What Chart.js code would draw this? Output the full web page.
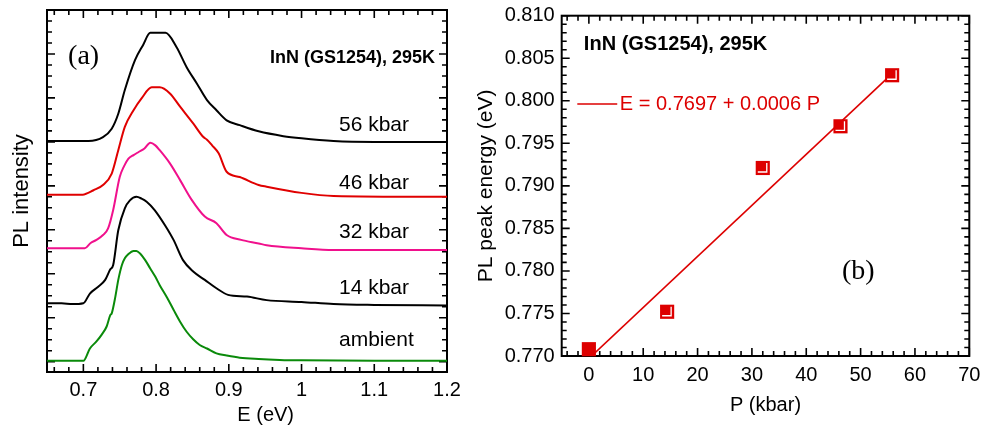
<!DOCTYPE html>
<html><head><meta charset="utf-8">
<script src="https://cdn.jsdelivr.net/npm/chart.js@4.4.1/dist/chart.umd.min.js"></script>
<style>
html,body{margin:0;padding:0;background:#fff;width:1008px;height:433px;overflow:hidden;}
#ca{position:absolute;left:0;top:0;}
#cb{position:absolute;left:460px;top:0;}
</style></head><body>
<canvas id="ca" width="490" height="433"></canvas>
<canvas id="cb" width="548" height="433"></canvas>
<script>
// ---------- Panel (a): PL spectra (energy in eV, offset intensity in arb. units) ----------
const ambientE = [0.650, 0.700, 0.709, 0.718, 0.725, 0.732, 0.737, 0.739, 0.744, 0.748, 0.753, 0.757, 0.762, 0.769, 0.773, 0.778, 0.785, 0.792, 0.799, 0.805, 0.815, 0.824, 0.833, 0.842, 0.851, 0.860, 0.870, 0.883, 0.897, 0.915, 0.941, 0.970, 1.000, 1.100, 1.200];
const ambientI = [0.02, 0.02, 0.30, 0.46, 0.61, 0.80, 1.06, 1.10, 1.48, 1.86, 2.20, 2.35, 2.45, 2.52, 2.52, 2.46, 2.31, 2.12, 1.93, 1.74, 1.46, 1.18, 0.91, 0.68, 0.51, 0.38, 0.30, 0.19, 0.14, 0.09, 0.06, 0.04, 0.03, 0.02, 0.02];

const k14E = [0.650, 0.670, 0.685, 0.700, 0.709, 0.720, 0.730, 0.737, 0.741, 0.748, 0.757, 0.764, 0.773, 0.780, 0.787, 0.798, 0.812, 0.824, 0.837, 0.851, 0.867, 0.883, 0.899, 0.925, 0.952, 1.000, 1.044, 1.100, 1.200];
const k14I = [1.33, 1.33, 1.31, 1.33, 1.55, 1.70, 1.86, 2.10, 2.20, 2.99, 3.49, 3.67, 3.75, 3.71, 3.64, 3.45, 3.11, 2.77, 2.31, 2.05, 1.86, 1.67, 1.52, 1.48, 1.40, 1.36, 1.31, 1.29, 1.28];

const k32E = [0.650, 0.702, 0.710, 0.718, 0.727, 0.734, 0.741, 0.750, 0.756, 0.762, 0.769, 0.776, 0.784, 0.792, 0.799, 0.805, 0.819, 0.833, 0.849, 0.867, 0.883, 0.897, 0.917, 0.941, 0.952, 1.000, 1.044, 1.200];
const k32I = [2.58, 2.58, 2.70, 2.77, 2.88, 3.03, 3.45, 4.20, 4.45, 4.62, 4.70, 4.77, 4.85, 4.98, 4.92, 4.81, 4.51, 4.13, 3.68, 3.30, 3.15, 2.88, 2.77, 2.69, 2.65, 2.58, 2.54, 2.54];

const k46E = [0.650, 0.699, 0.714, 0.727, 0.739, 0.748, 0.757, 0.769, 0.780, 0.794, 0.805, 0.819, 0.833, 0.851, 0.865, 0.870, 0.877, 0.886, 0.897, 0.915, 0.941, 0.952, 1.000, 1.044, 1.200];
const k46I = [3.80, 3.80, 3.90, 4.02, 4.28, 4.81, 5.34, 5.72, 5.99, 6.24, 6.24, 6.10, 5.80, 5.42, 5.11, 5.05, 4.92, 4.74, 4.32, 4.20, 4.02, 3.98, 3.84, 3.77, 3.75];

const k56E = [0.650, 0.707, 0.727, 0.739, 0.748, 0.757, 0.771, 0.782, 0.792, 0.813, 0.828, 0.842, 0.856, 0.870, 0.883, 0.897, 0.915, 0.941, 0.975, 1.000, 1.044, 1.100, 1.200];
const k56I = [5.02, 5.02, 5.11, 5.30, 5.64, 6.18, 6.86, 7.20, 7.48, 7.48, 7.16, 6.70, 6.33, 5.95, 5.72, 5.49, 5.38, 5.24, 5.13, 5.08, 5.02, 5.00, 5.00];

const spectrumLabels = ['56 kbar', '46 kbar', '32 kbar', '14 kbar', 'ambient'];
const energyTicksA = [0.7, 0.8, 0.9, 1.0, 1.1, 1.2];
const energyTickLabelsA = ['0.7', '0.8', '0.9', '1', '1.1', '1.2'];

// ---------- Panel (b): PL peak energy vs pressure ----------
const pressure = [0, 14.4, 32.0, 46.3, 55.8];
const peakEnergy = [0.7708, 0.7752, 0.7921, 0.7970, 0.8030];
const fitP = [0, 56];
const fitE = [0.7697, 0.8033];
const pressureTicks = [0, 10, 20, 30, 40, 50, 60, 70];
const peakTicks = [0.770, 0.775, 0.780, 0.785, 0.790, 0.795, 0.800, 0.805, 0.810];
const peakTickLabels = ['0.770', '0.775', '0.780', '0.785', '0.790', '0.795', '0.800', '0.805', '0.810'];

const FONT = "'Liberation Sans', Arial, sans-serif";
const SERIF = "'Liberation Serif', 'Times New Roman', serif";
const zip = (xs, ys) => xs.map((x, i) => ({x, y: ys[i]}));

// Inward ticks on all four sides + frame
const frameTicks = {
  id: 'frameTicks',
  beforeDatasetsDraw(chart, args, o) {
    const {ctx, chartArea: a, scales: {x, y}} = chart;
    ctx.save();
    ctx.strokeStyle = '#000';
    ctx.lineWidth = 1.6;
    ctx.beginPath();
    const run = (scale, start, step, major, fn) => {
      for (let i = 0; i < 1000; i++) {
        const v = start + i * step;
        if (v > scale.max + step * 1e-3) break;
        if (v < scale.min - step * 1e-3) continue;
        const k = Math.round(v / major);
        const isMajor = Math.abs(v - k * major) < step * 1e-3;
        fn(scale.getPixelForValue(v), isMajor ? o.majorLen : o.minorLen);
      }
    };
    run(x, o.xStart, o.xStep, o.xMajor, (p, len) => {
      ctx.moveTo(p, a.bottom); ctx.lineTo(p, a.bottom - len);
      ctx.moveTo(p, a.top); ctx.lineTo(p, a.top + len);
    });
    run(y, o.yStart, o.yStep, o.yMajor, (p, len) => {
      ctx.moveTo(a.left, p); ctx.lineTo(a.left + len, p);
      ctx.moveTo(a.right, p); ctx.lineTo(a.right - len, p);
    });
    ctx.stroke();
    ctx.lineWidth = 2;
    ctx.strokeRect(a.left, a.top, a.right - a.left, a.bottom - a.top);
    ctx.restore();
  }
};

// Free text (positions given in data coordinates)
const texts = {
  id: 'texts',
  afterDraw(chart, args, o) {
    const {ctx, scales: {x, y}, chartArea: a} = chart;
    ctx.save();
    for (const t of o.items) {
      ctx.font = t.font;
      ctx.fillStyle = t.color || '#000';
      ctx.textAlign = t.align || 'left';
      ctx.textBaseline = 'middle';
      const px = x.getPixelForValue(t.x);
      const py = t.yBelow !== undefined ? a.bottom + t.yBelow : y.getPixelForValue(t.y);
      if (t.line) {
        ctx.strokeStyle = t.color; ctx.lineWidth = 1.6;
        ctx.beginPath();
        ctx.moveTo(x.getPixelForValue(t.line[0]), py);
        ctx.lineTo(x.getPixelForValue(t.line[1]), py);
        ctx.stroke();
      }
      ctx.fillText(t.text, px, py);
    }
    ctx.restore();
  }
};

// white inner error-bar marks on the square markers
const errMarks = {
  id: 'errMarks',
  afterDatasetsDraw(chart) {
    const meta = chart.getDatasetMeta(1);
    const ctx = chart.ctx;
    ctx.save();
    ctx.strokeStyle = '#fff';
    ctx.lineWidth = 1.3;
    meta.data.forEach((pt, i) => {
      if (i === 0) return;
      ctx.beginPath();
      ctx.moveTo(pt.x + 4, pt.y - 5); ctx.lineTo(pt.x + 4, pt.y + 4);
      ctx.lineTo(pt.x - 5, pt.y + 4);
      ctx.stroke();
    });
    ctx.restore();
  }
};

const lineDS = (label, xs, ys, color) => ({
  label, data: zip(xs, ys), showLine: true, borderColor: color, borderWidth: 2,
  pointRadius: 0, cubicInterpolationMode: 'monotone', fill: false
});

// ---------------- Chart A ----------------
new Chart(document.getElementById('ca'), {
  type: 'scatter',
  data: {
    datasets: [
      lineDS('ambient', ambientE, ambientI, '#0a8a0a'),
      lineDS('14 kbar', k14E, k14I, '#000000'),
      lineDS('32 kbar', k32E, k32I, '#f0108c'),
      lineDS('46 kbar', k46E, k46I, '#e00000'),
      lineDS('56 kbar', k56E, k56I, '#000000')
    ]
  },
  options: {
    responsive: false, animation: false, devicePixelRatio: 1,
    layout: {padding: {left: 0, right: 43, top: 10, bottom: 0}},
    scales: {
      x: {
        type: 'linear', min: 0.65, max: 1.2,
        grid: {display: false, drawTicks: false}, border: {display: false},
        afterBuildTicks: s => { s.ticks = energyTicksA.map(v => ({value: v})); },
        afterFit: s => { s.height = 61; s.paddingLeft = 0; s.paddingRight = 0; },
        ticks: {autoSkip: false, maxRotation: 0, minRotation: 0, padding: 6, color: '#000',
          font: {family: FONT, size: 20}, callback: (v, i) => energyTickLabelsA[i]}
      },
      y: {
        type: 'linear', min: -0.235, max: 8,
        grid: {display: false, drawTicks: false}, border: {display: false},
        ticks: {display: false},
        afterFit: s => { s.width = 47; s.paddingTop = 0; s.paddingBottom = 0; },
        title: {display: true, text: 'PL intensity', color: '#000',
          font: {family: FONT, size: 22}, padding: {top: 8.5, bottom: 0}}
      }
    },
    plugins: {
      legend: {display: false}, tooltip: {enabled: false},
      frameTicks: {xStart: 0.60, xStep: 0.02, xMajor: 0.1, yStart: 0, yStep: 0.25, yMajor: 1, majorLen: 8, minorLen: 5},
      texts: {items: [
        {text: '(a)', x: 0.679, y: 6.93, font: `28px ${SERIF}`},
        {text: 'InN (GS1254), 295K', x: 1.1835, y: 6.90, font: `bold 18px ${FONT}`, align: 'right'},
        {text: spectrumLabels[0], x: 1.0515, y: 5.38, font: `21px ${FONT}`},
        {text: spectrumLabels[1], x: 1.0515, y: 4.07, font: `21px ${FONT}`},
        {text: spectrumLabels[2], x: 1.0515, y: 2.94, font: `21px ${FONT}`},
        {text: spectrumLabels[3], x: 1.0515, y: 1.67, font: `21px ${FONT}`},
        {text: spectrumLabels[4], x: 1.0515, y: 0.48, font: `21px ${FONT}`},
        {text: 'E (eV)', x: 0.9507, yBelow: 43, font: `20px ${FONT}`, align: 'center'}
      ]}
    }
  },
  plugins: [frameTicks, texts]
});

// ---------------- Chart B ----------------
new Chart(document.getElementById('cb'), {
  type: 'scatter',
  data: {
    datasets: [
      {label: 'fit', data: zip(fitP, fitE), showLine: true, borderColor: '#dd0000', borderWidth: 1.6, pointRadius: 0, tension: 0},
      {label: 'peak', data: zip(pressure, peakEnergy), showLine: false, pointStyle: 'rect',
        pointRadius: 10, pointBackgroundColor: '#dd0000', pointBorderColor: '#dd0000', pointBorderWidth: 0, clip: false}
    ]
  },
  options: {
    responsive: false, animation: false, devicePixelRatio: 1,
    layout: {padding: {left: 0, right: 38.7, top: 15.7, bottom: 0}},
    scales: {
      x: {
        type: 'linear', min: -5, max: 70,
        grid: {display: false, drawTicks: false}, border: {display: false},
        afterBuildTicks: s => { s.ticks = pressureTicks.map(v => ({value: v})); },
        afterFit: s => { s.height = 77; s.paddingLeft = 0; s.paddingRight = 0; },
        ticks: {autoSkip: false, maxRotation: 0, minRotation: 0, padding: 7, color: '#000',
          font: {family: FONT, size: 20}, callback: (v, i) => String(pressureTicks[i])},
        title: {display: true, text: 'P (kbar)', color: '#000', font: {family: FONT, size: 20}, padding: {top: 4, bottom: 16}}
      },
      y: {
        type: 'linear', min: 0.770, max: 0.810,
        grid: {display: false, drawTicks: false}, border: {display: false},
        afterBuildTicks: s => { s.ticks = peakTicks.map(v => ({value: v})); },
        afterFit: s => { s.width = 101.7; s.paddingTop = 0; s.paddingBottom = 0; },
        ticks: {autoSkip: false, padding: 7, color: '#000', font: {family: FONT, size: 20},
          callback: (v, i) => peakTickLabels[i]},
        title: {display: true, text: 'PL peak energy (eV)', color: '#000',
          font: {family: FONT, size: 21}, padding: {top: 14, bottom: 0}}
      }
    },
    plugins: {
      legend: {display: false}, tooltip: {enabled: false},
      frameTicks: {xStart: -4, xStep: 2, xMajor: 10, yStart: 0.770, yStep: 0.001, yMajor: 0.005, majorLen: 8, minorLen: 5},
      texts: {items: [
        {text: 'InN (GS1254), 295K', x: -0.92, y: 0.80656, font: `bold 20px ${FONT}`},
        {text: 'E = 0.7697 + 0.0006 P', x: 5.70, y: 0.79962, font: `20px ${FONT}`, color: '#dd0000', line: [-2.13, 5.22]},
        {text: '(b)', x: 46.56, y: 0.77991, font: `28px ${SERIF}`}
      ]}
    }
  },
  plugins: [frameTicks, texts, errMarks]
});
</script>
</body></html>
